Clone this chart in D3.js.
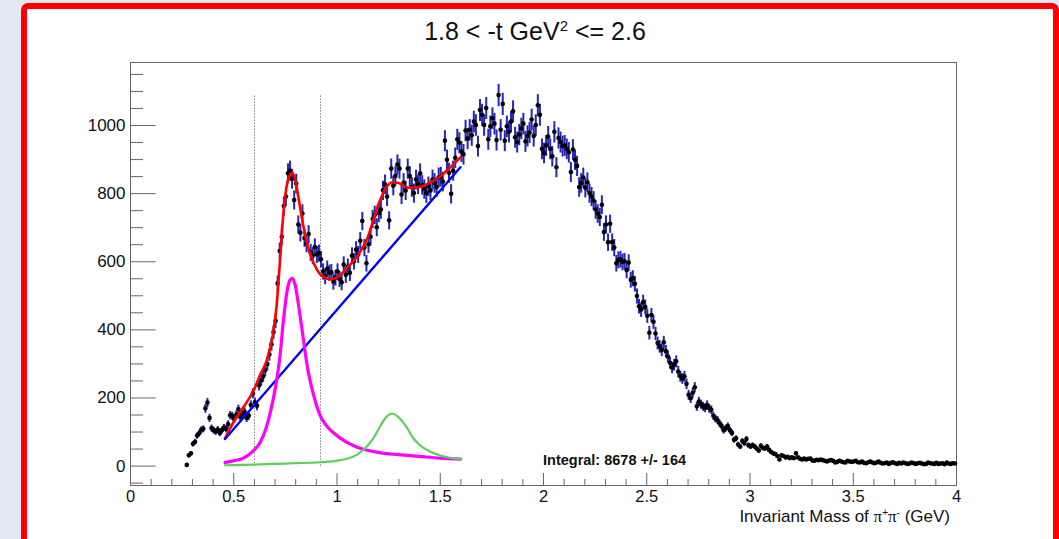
<!DOCTYPE html>
<html>
<head>
<meta charset="utf-8">
<script src="https://cdn.jsdelivr.net/npm/d3@7"></script>
<style>
  html, body { margin: 0; padding: 0; background: #e3e9f3; overflow: hidden; }
  #panel {
    position: absolute; left: 21px; top: 3px; width: 1038px; height: 570px;
    border: 6px solid #ff0000; border-radius: 7px; background: #ffffff; box-sizing: border-box;
  }
  #chart { position: absolute; left: 0; top: 0; }
  text { font-family: "Liberation Sans", Arial, Helvetica, sans-serif; fill: #111; }
</style>
</head>
<body>
<div id="panel"></div>
<svg id="chart" width="1059" height="539"></svg>
<script>
// Histogram of the pi+ pi- invariant mass: 10 MeV bins starting at 0.27 GeV
const binStart = 0.27;
const binWidth = 0.01;
const counts = [
  // 0.27 - 0.30
  2, 30, 36,
  // 0.30 - 0.40
  64, 70, 88, 95, 105, 108, 168, 185, 140, 110,
  // 0.40 - 0.50
  104, 100, 106, 96, 104, 112, 108, 122, 148, 146,
  // 0.50 - 0.60
  136, 150, 166, 142, 152, 158, 140, 146, 178, 212,
  // 0.60 - 0.70
  186, 176, 236, 250, 262, 280, 298, 326, 356, 392,
  // 0.70 - 0.80
  425, 535, 630, 672, 762, 790, 858, 866, 842, 780,
  // 0.80 - 0.90
  828, 708, 684, 740, 668, 652, 680, 626, 616, 642,
  // 0.90 - 1.00
  620, 624, 606, 570, 556, 578, 566, 568, 540, 552,
  // 1.00 - 1.10
  570, 548, 538, 590, 560, 584, 566, 616, 600, 634,
  // 1.10 - 1.20
  620, 660, 718, 640, 594, 650, 672, 724, 736, 700,
  // 1.20 - 1.30
  742, 752, 808, 826, 790, 720, 872, 822, 850, 884,
  // 1.30 - 1.40
  872, 796, 830, 808, 872, 850, 818, 800, 840, 826,
  // 1.40 - 1.50
  858, 824, 812, 800, 820, 808, 840, 830, 818, 846,
  // 1.50 - 1.60
  848, 834, 954, 898, 860, 798, 866, 904, 958, 948,
  // 1.60 - 1.70
  922, 914, 984, 960, 986, 970, 1010, 1000, 938, 1044,
  // 1.70 - 1.80
  1030, 1000, 1050, 958, 996, 1020, 1004, 956, 1088, 986,
  // 1.80 - 1.90
  1062, 954, 996, 980, 1010, 1040, 964, 950, 972, 990,
  // 1.90 - 2.00
  1004, 952, 968, 978, 1016, 968, 1000, 1058, 1030, 930,
  // 2.00 - 2.10
  918, 940, 966, 930, 908, 980, 876, 962, 950, 938,
  // 2.10 - 2.20
  940, 930, 920, 862, 928, 898, 880, 818, 830, 846,
  // 2.20 - 2.30
  816, 832, 800, 790, 778, 752, 740, 730, 766, 686,
  // 2.30 - 2.40
  708, 656, 710, 656, 640, 594, 604, 606, 598, 600,
  // 2.40 - 2.50
  574, 596, 546, 550, 534, 498, 468, 458, 480, 466,
  // 2.50 - 2.60
  440, 390, 442, 422, 388, 360, 350, 340, 362, 336,
  // 2.60 - 2.70
  320, 302, 288, 296, 306, 276, 262, 256, 262, 240,
  // 2.70 - 2.80
  208, 198, 214, 230, 174, 188, 180, 174, 170, 178,
  // 2.80 - 2.90
  168, 164, 146, 138, 134, 124, 116, 104, 110, 116,
  // 2.90 - 3.00
  104, 96, 76, 80, 62, 56, 72, 66, 78, 60,
  // 3.00 - 3.10
  56, 60, 56, 50, 44, 58, 52, 50, 56, 46,
  // 3.10 - 3.20
  40, 36, 34, 28, 18, 30, 28, 24, 26, 22,
  // 3.20 - 3.30
  24, 22, 36, 24, 20, 18, 21, 18, 20, 21,
  // 3.30 - 3.40
  15, 14, 17, 16, 18, 16, 14, 12, 15, 16,
  // 3.40 - 3.50
  14, 9, 11, 14, 12, 10, 9, 14, 12, 11,
  // 3.50 - 3.60
  12, 14, 10, 9, 12, 8, 7, 10, 12, 9,
  // 3.60 - 3.70
  7, 9, 12, 8, 6, 7, 9, 5, 8, 10,
  // 3.70 - 3.80
  7, 5, 8, 6, 9, 7, 5, 6, 9, 7,
  // 3.80 - 3.90
  5, 7, 8, 6, 4, 5, 9, 7, 6, 5,
  // 3.90 - 4.00
  8, 5, 6, 7, 4, 9, 6, 5, 7, 6
];

// Fitted curves over 0.46 - 1.6 GeV, as [mass, counts]
const fitTotal = [
  [0.46, 80], [0.50, 126], [0.55, 172], [0.60, 222], [0.63, 266], [0.66, 305],
  [0.69, 378], [0.71, 470], [0.725, 590], [0.74, 720], [0.76, 825], [0.775, 854],
  [0.787, 860], [0.80, 838], [0.82, 772], [0.84, 702], [0.86, 646], [0.89, 594],
  [0.92, 562], [0.95, 550], [0.97, 547], [1.00, 552], [1.03, 566], [1.06, 586],
  [1.10, 614], [1.15, 668], [1.20, 762], [1.24, 816], [1.27, 832], [1.30, 830],
  [1.35, 816], [1.40, 818], [1.45, 830], [1.50, 848], [1.55, 875], [1.60, 905]
];
const fitBackground = [[0.46, 78], [1.60, 876]];
const fitRho = [
  [0.46, 9], [0.50, 14], [0.55, 22], [0.60, 45], [0.63, 68], [0.66, 112],
  [0.69, 185], [0.71, 250], [0.726, 320], [0.742, 420], [0.76, 510], [0.775, 545],
  [0.787, 550], [0.80, 530], [0.82, 455], [0.84, 370], [0.855, 305], [0.87, 255],
  [0.887, 212], [0.92, 148], [0.95, 118], [0.984, 97], [1.05, 68], [1.10, 54],
  [1.20, 39], [1.30, 32], [1.40, 27], [1.50, 22], [1.60, 19]
];
const fitF2 = [
  [0.46, 1], [0.60, 3], [0.70, 5], [0.80, 7], [0.90, 9], [0.95, 11], [1.00, 14],
  [1.05, 20], [1.10, 32], [1.15, 58], [1.18, 82], [1.21, 114], [1.24, 142],
  [1.27, 153], [1.30, 142], [1.34, 112], [1.37, 82], [1.40, 62], [1.45, 42],
  [1.50, 30], [1.55, 23], [1.60, 19]
];

// Mass window markers
const windowEdges = [0.6, 0.92];
const windowTop = 1088;

const xMajorTicks = [0, 0.5, 1, 1.5, 2, 2.5, 3, 3.5, 4];
const yMajorTicks = [0, 200, 400, 600, 800, 1000];
const titleMain = "1.8 < -t GeV";
const titleTail = " <= 2.6";
const integralText = "Integral: 8678 +/- 164";

// ---- layout ----
const frame = { left: 130, top: 62, right: 956, bottom: 485 };
const svg = d3.select("#chart");

const x = d3.scaleLinear().domain([0, 4]).range([frame.left, frame.right]);
const y = d3.scaleLinear().domain([-57, 1185]).range([frame.bottom, frame.top]);

const points = counts.map((c, i) => ({ m: binStart + binWidth * (i + 0.5), c, e: Math.sqrt(c) }));

// frame box
svg.append("rect")
  .attr("x", frame.left + 0.5).attr("y", frame.top + 0.5)
  .attr("width", frame.right - frame.left).attr("height", frame.bottom - frame.top)
  .attr("fill", "none").attr("stroke", "#666").attr("stroke-width", 1);

// y axis: major ticks with labels, minor ticks every 50
const yMinor = d3.range(-50, 1185, 50).filter(v => v % 200 !== 0);
svg.append("g").attr("transform", `translate(${frame.left + 0.5},0)`)
  .call(d3.axisLeft(y).tickValues(yMinor).tickSizeInner(-12.5).tickSizeOuter(0).tickFormat(""))
  .call(g => g.select(".domain").remove())
  .call(g => g.selectAll("line").attr("stroke", "#666"));
svg.append("g").attr("transform", `translate(${frame.left + 0.5},0)`)
  .call(d3.axisLeft(y).tickValues(yMajorTicks).tickSizeInner(-25).tickSizeOuter(0).tickPadding(5).tickFormat(d3.format("d")))
  .call(g => g.select(".domain").remove())
  .call(g => g.selectAll("line").attr("stroke", "#666"))
  .call(g => g.selectAll("text").style("font-size", "17px").attr("fill", "#111")
    .style("font-family", '"Liberation Sans", Arial, sans-serif'));

// x axis: major ticks every 0.5, minor every 0.1
const xMinor = d3.range(0.1, 4, 0.1).filter(v => Math.abs(v * 2 - Math.round(v * 2)) > 1e-6);
svg.append("g").attr("transform", `translate(0,${frame.bottom + 0.5})`)
  .call(d3.axisBottom(x).tickValues(xMinor).tickSizeInner(-6.5).tickSizeOuter(0).tickFormat(""))
  .call(g => g.select(".domain").remove())
  .call(g => g.selectAll("line").attr("stroke", "#666"));
svg.append("g").attr("transform", `translate(0,${frame.bottom + 0.5})`)
  .call(d3.axisBottom(x).tickValues(xMajorTicks).tickSizeInner(-12.5).tickSizeOuter(0).tickPadding(5).tickFormat(d3.format("")))
  .call(g => g.select(".domain").remove())
  .call(g => g.selectAll("line").attr("stroke", "#666"))
  .call(g => g.selectAll("text").style("font-size", "16.5px").attr("fill", "#111")
    .style("font-family", '"Liberation Sans", Arial, sans-serif'));

// mass window lines
svg.append("g").selectAll("line").data(windowEdges).join("line")
  .attr("x1", d => Math.round(x(d)) + 0.5).attr("x2", d => Math.round(x(d)) + 0.5)
  .attr("y1", y(0)).attr("y2", y(windowTop))
  .attr("stroke", "#444").attr("stroke-width", 1).attr("stroke-dasharray", "1,2");

// error bars
svg.append("g").selectAll("line").data(points).join("line")
  .attr("x1", d => x(d.m)).attr("x2", d => x(d.m))
  .attr("y1", d => y(d.c - d.e)).attr("y2", d => y(d.c + d.e))
  .attr("stroke", "#2626b4").attr("stroke-width", 2);

// markers
svg.append("g").selectAll("circle").data(points).join("circle")
  .attr("cx", d => x(d.m)).attr("cy", d => y(d.c)).attr("r", 2.3)
  .attr("fill", "#000");

// fit curves
const line = d3.line().x(d => x(d[0])).y(d => y(d[1])).curve(d3.curveMonotoneX);
const curves = [
  { data: fitTotal, color: "#ff0000", w: 2.6 },
  { data: fitBackground, color: "#0000ff", w: 2.4 },
  { data: fitRho, color: "#ff00ff", w: 3.2 },
  { data: fitF2, color: "#5cd05a", w: 2.2 }
];
svg.append("g").selectAll("path").data(curves).join("path")
  .attr("d", d => line(d.data))
  .attr("fill", "none").attr("stroke", d => d.color).attr("stroke-width", d => d.w)
  .attr("stroke-linejoin", "round").attr("stroke-linecap", "round");

// title
const title = svg.append("text").attr("x", 535).attr("y", 40).attr("text-anchor", "middle")
  .style("font-size", "25px");
title.append("tspan").text(titleMain);
title.append("tspan").attr("dy", -9).style("font-size", "15px").text("2");
title.append("tspan").attr("dy", 9).text(titleTail);

// x axis title
const xt = svg.append("text").attr("x", 950).attr("y", 522).attr("text-anchor", "end")
  .style("font-size", "17px");
xt.append("tspan").text("Invariant Mass of ");
xt.append("tspan").style("font-family", '"Liberation Serif", "Times New Roman", serif').text("π");
xt.append("tspan").attr("dy", -6).style("font-size", "10px").text("+");
xt.append("tspan").attr("dy", 6).style("font-family", '"Liberation Serif", "Times New Roman", serif').text("π");
xt.append("tspan").attr("dy", -6).style("font-size", "10px").text("-");
xt.append("tspan").attr("dy", 6).text(" (GeV)");

// integral annotation
svg.append("text").attr("x", 543).attr("y", 465)
  .style("font-size", "14.5px").style("font-weight", "bold").text(integralText);
</script>
</body>
</html>
